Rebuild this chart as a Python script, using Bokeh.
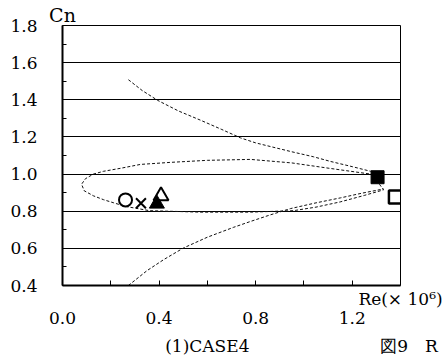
from bokeh.plotting import figure
from bokeh.models import Range1d, FixedTicker, LinearAxis, PrintfTickFormatter
from bokeh.embed import file_html
from bokeh.resources import INLINE

# ---- data ----
x_ticks = [0.0, 0.4, 0.8, 1.2]
x_minor = [0.2, 0.4, 0.6, 0.8, 1.0, 1.2]
y_ticks = [0.4, 0.6, 0.8, 1.0, 1.2, 1.4, 1.6, 1.8]
y_minor = [0.5, 0.7, 0.9, 1.1, 1.3, 1.5, 1.7]
grid_levels = [0.6, 0.8, 1.0, 1.2, 1.4, 1.6]

y_title_pos = [0.0]
y_title_text = ["Cn"]
x_title_pos = [1.4]
x_title_text = ["Re(× 10⁶)"]
caption_pos = [0.6, 1.4]
caption_text = ["(1)CASE4", "　図9　R"]

upper_x = [0.273, 0.33, 0.394, 0.48, 0.57, 0.66, 0.737, 0.80, 0.862, 0.95, 1.04, 1.11, 1.20, 1.276, 1.305]
upper_y = [1.508, 1.45, 1.397, 1.34, 1.291, 1.24, 1.195, 1.168, 1.148, 1.12, 1.093, 1.068, 1.04, 1.015, 0.99]

loop_x = [1.31, 1.276, 1.10, 0.95, 0.779, 0.60, 0.447, 0.323, 0.24, 0.17, 0.128, 0.095, 0.079, 0.09, 0.128, 0.17, 0.21, 0.26, 0.36, 0.57, 0.779, 0.957, 1.05, 1.15, 1.25, 1.33, 1.31]
loop_y = [0.99, 1.0, 1.032, 1.06, 1.079, 1.074, 1.063, 1.052, 1.031, 1.015, 1.0, 0.975, 0.945, 0.91, 0.883, 0.862, 0.846, 0.826, 0.803, 0.795, 0.795, 0.803, 0.822, 0.85, 0.885, 0.915, 0.95]

lower_x = [0.273, 0.35, 0.42, 0.501, 0.60, 0.708, 0.779, 0.86, 0.944, 1.05, 1.152, 1.24, 1.33]
lower_y = [0.40, 0.48, 0.54, 0.602, 0.66, 0.713, 0.745, 0.78, 0.814, 0.845, 0.872, 0.897, 0.92]

circle_x, circle_y = [0.261], [0.861]
cross_x, cross_y = [0.325], [0.843]
tri_fill_x, tri_fill_y = [0.391], [0.84]
tri_open_x, tri_open_y = [0.408], [0.883]
sq_fill_x, sq_fill_y = [1.305], [0.983]
sq_open_x, sq_open_y = [1.379], [0.877]

FONT = "DejaVu Serif"

p = figure(width=445, height=363, output_backend="svg", toolbar_location=None,
           x_range=Range1d(0, 1.4), y_range=Range1d(0.4, 1.8),
           min_border_left=62, min_border_right=45, min_border_top=22, min_border_bottom=78)
p.background_fill_color = "white"
p.border_fill_color = "white"
p.outline_line_color = "black"
p.outline_line_width = 1
p.outline_line_alpha = 1

p.xgrid.visible = False
p.ygrid.ticker = FixedTicker(ticks=grid_levels)
p.ygrid.grid_line_color = "black"
p.ygrid.grid_line_width = 1
p.ygrid.grid_line_alpha = 1

def style_axis(ax, size="17px", font=FONT):
    ax.axis_line_color = "black"
    ax.axis_line_width = 2
    ax.major_tick_line_color = "black"
    ax.minor_tick_line_color = "black"
    ax.major_tick_out = 0
    ax.minor_tick_out = 0
    ax.major_label_text_font = font
    ax.major_label_text_font_size = size
    ax.major_label_text_color = "black"

def bare(ax):
    ax.axis_line_color = None
    ax.major_tick_line_color = None
    ax.minor_tick_line_color = None

# axis A: the frame's bottom line, all ticks, and the Re(x10^6) title at the right end
ax_a = p.xaxis[0]
style_axis(ax_a)
ax_a.ticker = FixedTicker(ticks=x_title_pos, minor_ticks=x_minor)
ax_a.major_label_overrides = dict(zip(x_title_pos, x_title_text))
ax_a.major_tick_in = 0
ax_a.minor_tick_in = 5
ax_a.major_label_standoff = 3

# axis B: numeric tick labels
ax_b = LinearAxis(ticker=FixedTicker(ticks=x_ticks), formatter=PrintfTickFormatter(format="%.1f"))
style_axis(ax_b)
bare(ax_b)
ax_b.major_label_standoff = 0
p.add_layout(ax_b, "below")

# axis C: captions
ax_c = LinearAxis(ticker=FixedTicker(ticks=caption_pos))
style_axis(ax_c, size="17px")
bare(ax_c)
ax_c.major_label_overrides = dict(zip(caption_pos, caption_text))
ax_c.major_label_standoff = 9
p.add_layout(ax_c, "below")

# above axis: the Cn title
ax_top = LinearAxis(ticker=FixedTicker(ticks=y_title_pos))
style_axis(ax_top, size="19px")
bare(ax_top)
ax_top.major_label_overrides = dict(zip(y_title_pos, y_title_text))
ax_top.major_label_standoff = 0
p.add_layout(ax_top, "above")

ay = p.yaxis[0]
style_axis(ay)
ay.ticker = FixedTicker(ticks=y_ticks, minor_ticks=y_minor)
ay.formatter = PrintfTickFormatter(format="%.1f")
ay.major_tick_in = 5
ay.minor_tick_in = 4
ay.major_label_standoff = 25

dash = dict(line_color="#111111", line_width=1, line_dash="3 2")
p.line(upper_x, upper_y, **dash)
p.line(loop_x, loop_y, **dash)
p.line(lower_x, lower_y, **dash)

p.scatter(circle_x, circle_y, marker="circle", size=13, fill_color=None, line_color="black", line_width=2)
p.scatter(cross_x, cross_y, marker="x", size=14, line_color="black", line_width=2)
p.scatter(tri_fill_x, tri_fill_y, marker="triangle", size=15, fill_color="black", line_color="black", line_width=1)
p.scatter(tri_open_x, tri_open_y, marker="triangle", size=15, fill_color=None, line_color="black", line_width=2)
p.scatter(sq_fill_x, sq_fill_y, marker="square", size=13, fill_color="black", line_color="black", line_width=1)
p.scatter(sq_open_x, sq_open_y, marker="square", size=13, fill_color=None, line_color="black", line_width=2.5)

open("out.html", "w").write(file_html(p, INLINE))
